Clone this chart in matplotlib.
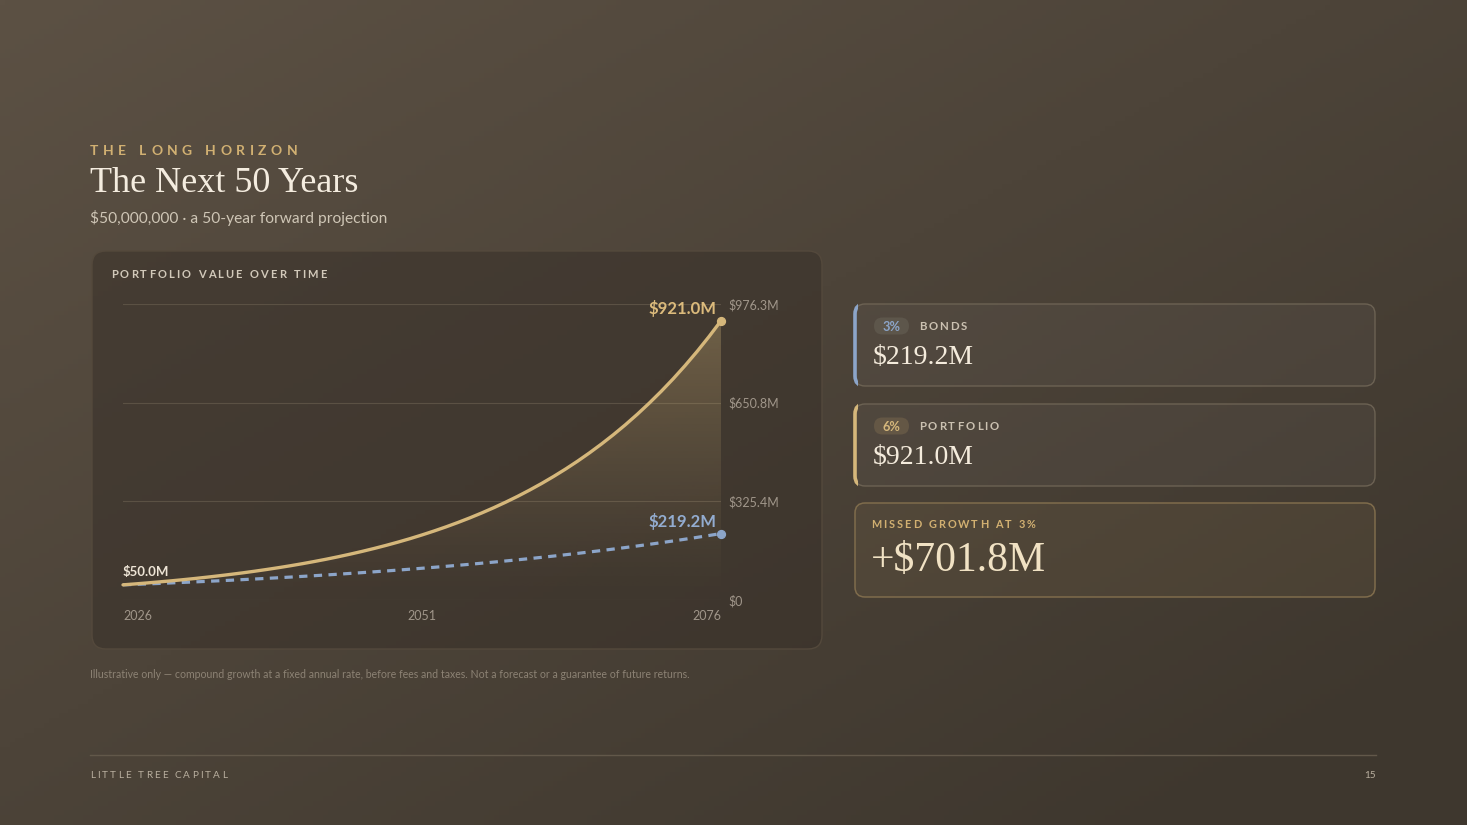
import numpy as np
import matplotlib
matplotlib.use('Agg')
import matplotlib.pyplot as plt
from matplotlib.patches import FancyBboxPatch, Rectangle, Polygon
from matplotlib.colors import to_rgb

W, H = 1467, 825

# values ($M), one point per year
years = list(range(2026, 2077))
portfolio = [50.0, 53.0, 56.2, 59.6, 63.1, 66.9, 70.9, 75.2, 79.7, 84.5,
             89.5, 94.9, 100.6, 106.6, 113.0, 119.8, 127.0, 134.6, 142.7, 151.3,
             160.4, 170.0, 180.2, 191.0, 202.4, 214.6, 227.5, 241.1, 255.6, 270.9,
             287.2, 304.4, 322.7, 342.0, 362.6, 384.3, 407.4, 431.8, 457.7, 485.2,
             514.3, 545.1, 577.8, 612.5, 649.3, 688.2, 729.5, 773.3, 819.7, 868.9,
             921.0]
bonds = [50.0, 51.5, 53.0, 54.6, 56.3, 58.0, 59.7, 61.5, 63.3, 65.2,
         67.2, 69.2, 71.3, 73.4, 75.6, 77.9, 80.2, 82.6, 85.1, 87.7,
         90.3, 93.0, 95.8, 98.7, 101.6, 104.7, 107.8, 111.1, 114.4, 117.8,
         121.4, 125.0, 128.8, 132.6, 136.6, 140.7, 144.9, 149.3, 153.7, 158.4,
         163.1, 168.0, 173.0, 178.2, 183.6, 189.1, 194.7, 200.6, 206.6, 212.8,
         219.2]
y_ticks = [0, 325.4, 650.8, 976.3]
y_tick_labels = ['$0', '$325.4M', '$650.8M', '$976.3M']
x_ticks = [2026, 2051, 2076]
missed = 701.8

GOLD = '#d5b77b'
BLUE = '#8ca5c9'
SANS = ['Lato', 'DejaVu Sans']
SERIF = ['Liberation Serif', 'DejaVu Serif']

fig = plt.figure(figsize=(W / 100, H / 100), dpi=100)
bg = fig.add_axes([0, 0, 1, 1])
bg.set_xlim(0, W)
bg.set_ylim(H, 0)
bg.axis('off')

# diagonal background gradient
xx, yy = np.meshgrid(np.linspace(0, 1, 300), np.linspace(0, 1, 170))
t = np.clip(0.55 * xx + 0.55 * yy, 0, 1)[..., None]
c0, c1 = np.array(to_rgb('#5c5144')), np.array(to_rgb('#3e372e'))
bg.imshow(c0 * (1 - t) + c1 * t, extent=[0, W, H, 0], aspect='auto', zorder=0)

renderer = fig.canvas.get_renderer()


def rbox(x, y, w, h, r, fc, ec, lw=1.0, z=1):
    p = FancyBboxPatch((x, y), w, h, boxstyle=f'round,pad=0,rounding_size={r}',
                       fc=fc, ec=ec, lw=lw, zorder=z)
    bg.add_patch(p)
    return p


def spaced(x, y, s, size, color, spacing, weight='normal'):
    # letter-spaced text, one glyph at a time
    sp = size * 1.389 * 0.3
    for ch in s:
        if ch == ' ':
            x += sp + spacing
            continue
        tx = bg.text(x, y, ch, fontsize=size, color=color, fontweight=weight,
                     family=SANS, ha='left', va='center_baseline', zorder=6)
        x += tx.get_window_extent(renderer=renderer).width + spacing


# header
spaced(90, 150, 'THE LONG HORIZON', 10, '#d1b072', 4.5, weight='bold')
bg.text(90, 179, 'The Next 50 Years', fontsize=26, color='#f4ecdf', family=SERIF,
        ha='left', va='center_baseline')
bg.text(90, 216.5, '$50,000,000 · a 50-year forward projection', fontsize=11.2,
        color='#cfc6b6', family=SANS, ha='left', va='center_baseline')

# chart panel
rbox(92, 251, 730, 398, 14, fc=(0.22, 0.19, 0.16, 0.55), ec='#54493c', lw=1.0)
spaced(111, 274, 'PORTFOLIO VALUE OVER TIME', 8, '#d2c9ba', 2.1, weight='bold')

ax = fig.add_axes([123 / W, 1 - 600 / H, (721 - 123) / W, (600 - 304) / H])
ax.set_facecolor('none')
for s in ax.spines.values():
    s.set_visible(False)

for v in y_ticks:
    ax.axhline(v, color='#5b5144', lw=0.8, zorder=1)

# gradient fill under the portfolio line
grad = np.linspace(0, 1, 256).reshape(-1, 1)
rgba = np.zeros((256, 1, 4))
rgba[..., :3] = to_rgb(GOLD)
rgba[..., 3] = 0.33 * grad ** 1.2
im = ax.imshow(rgba, extent=[years[0], years[-1], 0, y_ticks[-1]], origin='lower',
               aspect='auto', zorder=2)
poly = Polygon(list(zip(years, portfolio)) + [(years[-1], 0), (years[0], 0)],
               closed=True, fc='none', ec='none', transform=ax.transData)
ax.add_patch(poly)
im.set_clip_path(poly)

ax.plot(years, bonds, color=BLUE, lw=2.3, dashes=(2.6, 2.0), zorder=3, clip_on=False)
ax.plot(years, portfolio, color=GOLD, lw=2.4, solid_capstyle='round', zorder=4,
        clip_on=False)
ax.scatter([years[-1]], [portfolio[-1]], s=32, color=GOLD, zorder=5, clip_on=False)
ax.scatter([years[-1]], [bonds[-1]], s=32, color=BLUE, zorder=5, clip_on=False)

ax.annotate(f'${portfolio[-1]:.1f}M', xy=(years[-1], portfolio[-1]), xytext=(-3, 10),
            textcoords='offset points', ha='right', va='center_baseline', fontsize=12,
            fontweight='bold', color='#dcbb7c', family=SANS, annotation_clip=False)
ax.annotate(f'${bonds[-1]:.1f}M', xy=(years[-1], bonds[-1]), xytext=(-3, 10),
            textcoords='offset points', ha='right', va='center_baseline', fontsize=12,
            fontweight='bold', color='#93acd0', family=SANS, annotation_clip=False)
ax.annotate(f'${portfolio[0]:.1f}M', xy=(years[0], portfolio[0]), xytext=(0, 10),
            textcoords='offset points', ha='left', va='center_baseline', fontsize=9.5,
            fontweight='bold', color='#eee5d6', family=SANS, annotation_clip=False)

ax.set_xlim(years[0], years[-1])
ax.set_ylim(0, y_ticks[-1])
ax.yaxis.tick_right()
ax.set_yticks(y_ticks)
ax.set_yticklabels(y_tick_labels, fontsize=9, color='#a0968a', family=SANS)
ax.set_xticks(x_ticks)
ax.set_xticklabels([str(x) for x in x_ticks], fontsize=9, color='#a0968a', family=SANS)
for lab, ha in zip(ax.get_xticklabels(), ['left', 'center', 'right']):
    lab.set_ha(ha)
ax.tick_params(axis='both', length=0)
ax.tick_params(axis='y', pad=5.5)
ax.tick_params(axis='x', pad=7.5)

# summary cards
cards = [
    (304, 82, '3%', 'BONDS', f'${bonds[-1]:.1f}M', BLUE, '#5d564b'),
    (404, 82, '6%', 'PORTFOLIO', f'${portfolio[-1]:.1f}M', GOLD, '#645745'),
]
for y, h, pct, name, val, accent, pill in cards:
    rbox(855, y, 520, h, 10, fc=(1, 1, 1, 0.035), ec='#6c6253', lw=1.0)
    acc = rbox(855, y, 520, h, 10, fc='none', ec=accent, lw=2.6, z=2)
    acc.set_clip_path(Rectangle((850, y - 5), 7.5, h + 10, transform=bg.transData))
    rbox(874, y + 13.5, 35, 17, 8.5, fc=pill, ec='none', z=3)
    bg.text(891.5, y + 22, pct, fontsize=9.2, fontweight='bold', color=accent,
            family=SANS, ha='center', va='center_baseline', zorder=6)
    spaced(919, y + 22, name, 8.2, '#cbc1b1', 2.0, weight='bold')
    bg.text(873, y + 51, val, fontsize=20, color='#f4ebdc', family=SERIF,
            ha='left', va='center_baseline', zorder=6)

rbox(855, 503, 520, 94, 10, fc=(0.84, 0.70, 0.45, 0.07), ec='#7f6c4c', lw=1.1)
spaced(871, 524, 'MISSED GROWTH AT 3%', 7.8, '#d2b071', 2.0, weight='bold')
bg.text(871, 556, f'+${missed:.1f}M', fontsize=30, color='#f1e2c4', family=SERIF,
        ha='left', va='center_baseline', zorder=6)

# footnote and footer
bg.text(90, 673.5, 'Illustrative only — compound growth at a fixed annual rate, before fees '
        'and taxes. Not a forecast or a guarantee of future returns.', fontsize=7.6,
        color='#8c8274', family=SANS, ha='left', va='center_baseline')
bg.plot([90, 1376], [755, 755], color='#62584a', lw=1.0)
spaced(90, 775, 'LITTLE TREE CAPITAL', 7.2, '#b9af9f', 2.1)
bg.text(1376, 775, '15', fontsize=7.2, color='#b9af9f', family=SANS, ha='right',
        va='center_baseline')

fig.savefig('out.png', dpi=100)
